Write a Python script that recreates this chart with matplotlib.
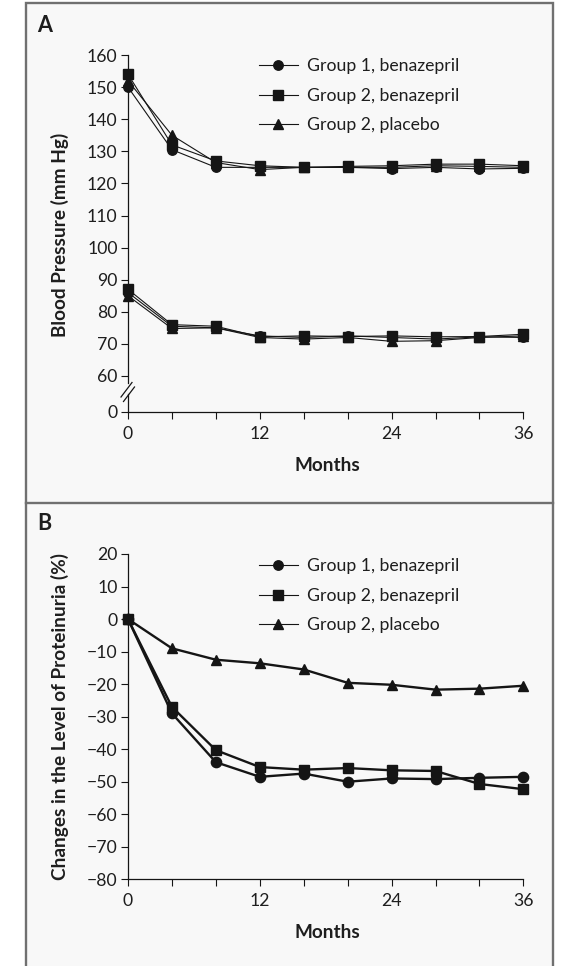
import matplotlib
matplotlib.use('Agg')
import matplotlib.pyplot as plt
import numpy as np
from matplotlib.lines import Line2D
from matplotlib.patches import Rectangle

# ---------------- data ----------------
months = [0, 4, 8, 12, 16, 20, 24, 28, 32, 36]
series_labels = ["Group 1, benazepril", "Group 2, benazepril", "Group 2, placebo"]

sbp_g1_benaz = [150, 130.5, 125, 125, 125, 125, 124.6, 125, 124.5, 124.7]
sbp_g2_benaz = [154, 132, 127, 125.5, 125, 125.3, 125.5, 126, 126, 125.5]
sbp_g2_plac = [152, 135, 126.5, 124.3, 125, 125, 125, 125.5, 125.3, 125]
dbp_g1_benaz = [86, 75.5, 75, 72.5, 72, 72.5, 72, 71.5, 72.2, 72]
dbp_g2_benaz = [87, 76, 75.5, 72.2, 72.5, 72.3, 72.5, 72.2, 72.3, 73]
dbp_g2_plac = [85, 74.8, 75, 72, 71.5, 72, 70.8, 71, 72, 72.5]

prot_g1_benaz = [0, -29, -44, -48.5, -47.5, -50, -49, -49.2, -48.8, -48.5]
prot_g2_benaz = [0, -27, -40.3, -45.5, -46.3, -45.8, -46.5, -46.7, -50.7, -52.3]
prot_g2_plac = [0, -9, -12.5, -13.6, -15.5, -19.6, -20.2, -21.7, -21.4, -20.5]

xticks_major = [0, 12, 24, 36]
xticks_minor = [4, 8, 16, 20, 28, 32]
yticks_a = [0, 60, 70, 80, 90, 100, 110, 120, 130, 140, 150, 160]
yticks_b = [-80, -70, -60, -50, -40, -30, -20, -10, 0, 10, 20]

# ---------------- style ----------------
W, H = 564, 966
plt.rcParams['font.family'] = ['Lato', 'DejaVu Sans']
plt.rcParams['axes.unicode_minus'] = True
TXT = '#1e1e1e'
LC = '#151515'
FS = 12.7
FSL = 13.7

fig = plt.figure(figsize=(W / 100, H / 100), dpi=100)
fig.patch.set_facecolor('white')


def fx(x):
    return x / W


def fy(y):
    return 1 - y / H


# frame + panel background
fig.patches.append(Rectangle((fx(26), fy(975)), fx(553) - fx(26), fy(3) - fy(975),
                             transform=fig.transFigure, facecolor='#f8f8f8',
                             edgecolor='#707070', lw=1.7, zorder=-5))
fig.lines.append(Line2D([fx(26), fx(553)], [fy(502.5)] * 2, transform=fig.transFigure,
                        color='#707070', lw=1.7, zorder=-4))

markers = ['o', 's', '^']


def style_axes(ax):
    ax.set_facecolor('none')
    for s in ['top', 'right']:
        ax.spines[s].set_visible(False)
    for s in ['left', 'bottom']:
        ax.spines[s].set_linewidth(0.9)
        ax.spines[s].set_color(LC)
    ax.set_xlim(0, 36)
    ax.set_xticks(xticks_major)
    ax.set_xticks(xticks_minor, minor=True)
    ax.tick_params(axis='both', which='both', direction='out', length=5, width=0.8,
                   color=LC, labelsize=FS, labelcolor=TXT)
    ax.tick_params(axis='x', which='both', pad=5)
    ax.tick_params(axis='y', which='both', pad=2.5)


# ---------------- Panel A ----------------
k = (36.0 / 60.0) / 3.21


def fwd(v):
    v = np.asarray(v, dtype=float)
    return np.where(v >= 60, v, 60 - (60 - v) * k)


def inv(u):
    u = np.asarray(u, dtype=float)
    return np.where(u >= 60, u, 60 - (60 - u) / k)


axA = fig.add_axes([fx(128), fy(412), fx(523.4) - fx(128), fy(55) - fy(412)])
style_axes(axA)
axA.set_yscale('function', functions=(fwd, inv))
axA.set_ylim(0, 160)
axA.set_yticks(yticks_a)
axA.set_yticklabels([str(t) for t in yticks_a])
axA.yaxis.set_minor_locator(matplotlib.ticker.NullLocator())

sbp = [sbp_g1_benaz, sbp_g2_benaz, sbp_g2_plac]
dbp = [dbp_g1_benaz, dbp_g2_benaz, dbp_g2_plac]
handlesA = []
for i, (s, d, m) in enumerate(zip(sbp, dbp, markers)):
    z = 3 + (2 if m == 's' else (1 if m == '^' else 0))
    ms = 6.8
    h, = axA.plot(months, s, marker=m, color=LC, lw=0.8, ms=ms, clip_on=False,
                  zorder=z, label=series_labels[i])
    axA.plot(months, d, marker=m, color=LC, lw=0.8, ms=ms, clip_on=False, zorder=z)
    handlesA.append(h)

# broken y axis
axA.spines['left'].set_visible(False)
fig.lines.append(Line2D([fx(128), fx(128)], [fy(55), fy(383)], transform=fig.transFigure,
                        color=LC, lw=0.9))
fig.lines.append(Line2D([fx(128), fx(128)], [fy(394), fy(412)], transform=fig.transFigure,
                        color=LC, lw=0.9))
fig.lines.append(Line2D([fx(121), fx(132)], [fy(397), fy(382.5)], transform=fig.transFigure,
                        color=LC, lw=0.9))
fig.lines.append(Line2D([fx(123.5), fx(134.5)], [fy(401.5), fy(387)], transform=fig.transFigure,
                        color=LC, lw=0.9))

axA.set_xlabel('Months', fontsize=FSL, fontweight='bold', color=TXT)
axA.xaxis.set_label_coords(fx(327), fy(465), transform=fig.transFigure)
axA.xaxis.label.set_va('center')
axA.set_ylabel('Blood Pressure (mm Hg)', fontsize=FSL, fontweight='bold', color=TXT)
axA.yaxis.set_label_coords(fx(60), fy(235), transform=fig.transFigure)
axA.yaxis.label.set_va('center')

legA = axA.legend(handles=handlesA, loc='upper left', bbox_to_anchor=(fx(259), fy(58.5)),
                  bbox_transform=fig.transFigure, frameon=False, fontsize=FS,
                  handlelength=2.2, handletextpad=0.5, labelspacing=0.76,
                  borderpad=0, borderaxespad=0, labelcolor=TXT)

fig.text(fx(37.5), fy(25), 'A', fontsize=15.5, fontweight='bold', color=TXT,
         ha='left', va='center')

# ---------------- Panel B ----------------
axB = fig.add_axes([fx(128), fy(879.3), fx(523.4) - fx(128), fy(554) - fy(879.3)])
style_axes(axB)
axB.set_ylim(-80, 20)
axB.set_yticks(yticks_b)

prot = [prot_g1_benaz, prot_g2_benaz, prot_g2_plac]
handlesB = []
for i, (p, m) in enumerate(zip(prot, markers)):
    z = 3 + (2 if m == 's' else (1 if m == '^' else 0))
    axB.plot(months, p, marker=m, color=LC, lw=1.7, ms=7.4, clip_on=False, zorder=z)
    handlesB.append(Line2D([], [], marker=m, color=LC, lw=0.8, ms=6.8, label=series_labels[i]))

axB.set_xlabel('Months', fontsize=FSL, fontweight='bold', color=TXT)
axB.xaxis.set_label_coords(fx(327), fy(933), transform=fig.transFigure)
axB.xaxis.label.set_va('center')
axB.set_ylabel('Changes in the Level of Proteinuria (%)', fontsize=FSL, fontweight='bold',
               color=TXT)
axB.yaxis.set_label_coords(fx(60), fy(716.5), transform=fig.transFigure)
axB.yaxis.label.set_va('center')

legB = axB.legend(handles=handlesB, loc='upper left', bbox_to_anchor=(fx(259), fy(558.5)),
                  bbox_transform=fig.transFigure, frameon=False, fontsize=FS,
                  handlelength=2.2, handletextpad=0.5, labelspacing=0.76,
                  borderpad=0, borderaxespad=0, labelcolor=TXT)

fig.text(fx(37.5), fy(524), 'B', fontsize=15.5, fontweight='bold', color=TXT,
         ha='left', va='center')

fig.savefig('out.png', dpi=100)
